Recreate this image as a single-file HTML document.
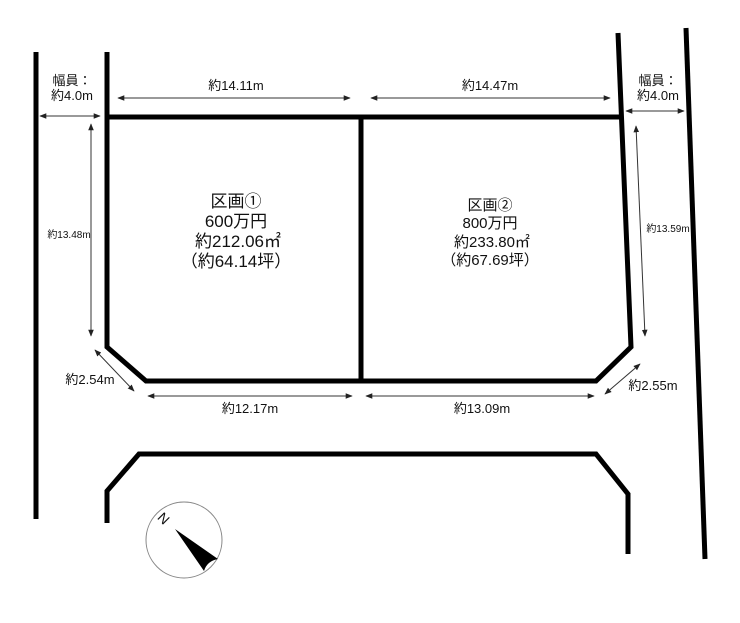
<!DOCTYPE html>
<html><head><meta charset="utf-8"><style>
html,body{margin:0;padding:0;background:#fff;}
svg{display:block;}
text{font-family:"Liberation Sans","Noto Sans CJK JP",sans-serif;fill:#111;}
</style></head><body>
<svg width="740" height="623" viewBox="0 0 740 623" xmlns="http://www.w3.org/2000/svg">
<defs>
<marker id="a" viewBox="0 0 10 10" refX="9" refY="5" markerWidth="7" markerHeight="7" orient="auto-start-reverse" markerUnits="userSpaceOnUse"><path d="M0,1 L10,5 L0,9 z" fill="#222"/></marker>
</defs>
<g stroke="#000" stroke-width="5" fill="none" stroke-linejoin="miter">
<line x1="36" y1="52" x2="36" y2="519"/>
<polyline points="107,52 107,347 146,381 596,381 631,347 618,33"/>
<line x1="107" y1="117" x2="622" y2="117"/>
<line x1="361" y1="117" x2="361" y2="381"/>
<line x1="686" y1="28" x2="705" y2="559"/>
<polyline points="107,523 107,491 139,454 596,454 628,494 628,554"/>
</g>
<g stroke="#333" stroke-width="1" fill="none" marker-start="url(#a)" marker-end="url(#a)">
<line x1="118" y1="98" x2="350" y2="98"/>
<line x1="371" y1="98" x2="610" y2="98"/>
<line x1="40" y1="116" x2="100" y2="116"/>
<line x1="626" y1="111" x2="684" y2="111"/>
<line x1="91" y1="124" x2="91" y2="336"/>
<line x1="636" y1="126" x2="645" y2="336"/>
<line x1="95" y1="350" x2="134" y2="391"/>
<line x1="148" y1="396" x2="352" y2="396"/>
<line x1="366" y1="396" x2="594" y2="396"/>
<line x1="605" y1="394" x2="640" y2="364"/>
</g>
<g font-size="13" text-anchor="middle">
<text x="236" y="90">約14.11m</text>
<text x="490" y="90">約14.47m</text>
<text x="72" y="85">幅員：</text>
<text x="72" y="100">約4.0m</text>
<text x="658" y="85">幅員：</text>
<text x="658" y="100">約4.0m</text>
<text x="90" y="384">約2.54m</text>
<text x="250" y="413">約12.17m</text>
<text x="482" y="413">約13.09m</text>
<text x="653" y="390">約2.55m</text>
</g>
<g font-size="10" text-anchor="middle">
<text x="69" y="238">約13.48m</text>
<text x="668" y="232">約13.59m</text>
</g>
<g font-size="17" text-anchor="middle">
<text x="236" y="207">区画①</text>
<text x="236" y="227">600万円</text>
<text x="238" y="247">約212.06㎡</text>
<text x="236" y="267">（約64.14坪）</text>
</g>
<g font-size="15" text-anchor="middle">
<text x="490" y="210">区画②</text>
<text x="490" y="228">800万円</text>
<text x="492" y="247">約233.80㎡</text>
<text x="490" y="265">（約67.69坪）</text>
</g>
<circle cx="184" cy="540" r="38" fill="none" stroke="#888" stroke-width="1"/>
<path d="M175,529 L218,559 Q207,561 204,571 Z" fill="#000"/>
<text x="163" y="523" font-size="14" font-family="Liberation Serif,serif" transform="rotate(45 163 519)" text-anchor="middle">N</text>
</svg>
</body></html>
